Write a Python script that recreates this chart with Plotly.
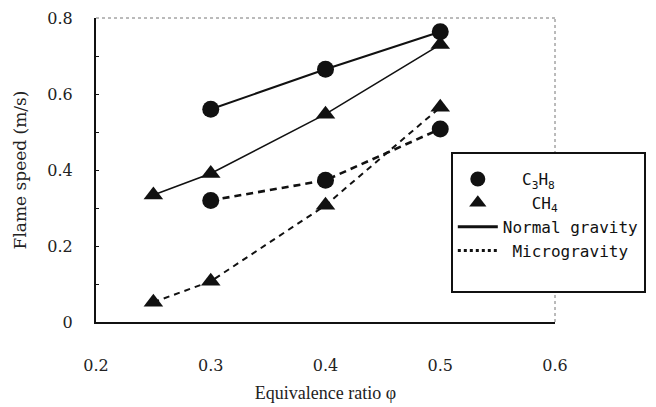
import plotly.graph_objects as go

# Data
phi_c3h8 = [0.3, 0.4, 0.5]
phi_ch4 = [0.25, 0.3, 0.4, 0.5]
c3h8_normal = [0.56, 0.665, 0.764]
ch4_normal = [0.334, 0.391, 0.547, 0.73]
c3h8_micro = [0.32, 0.373, 0.508]
ch4_micro = [0.052, 0.107, 0.307, 0.565]

x_ticks = [0.2, 0.3, 0.4, 0.5, 0.6]
x_tick_labels = ["0.2", "0.3", "0.4", "0.5", "0.6"]
y_ticks = [0, 0.2, 0.4, 0.6, 0.8]
y_tick_labels = ["0", "0.2", "0.4", "0.6", "0.8"]

BLACK = "#111111"
NB = "\u00a0"

fig = go.Figure()

def add_series(x, y, symbol, dash, width):
    fig.add_trace(go.Scatter(
        x=x, y=y, mode="lines+markers", showlegend=False,
        line=dict(color=BLACK, width=width, dash=dash),
        marker=dict(symbol=symbol, size=17, color=BLACK),
    ))

add_series(phi_c3h8, c3h8_normal, "circle", "solid", 2)
add_series(phi_ch4, ch4_normal, "triangle-up", "solid", 1.6)
add_series(phi_c3h8, c3h8_micro, "circle", "7px,5px", 2.6)
add_series(phi_ch4, ch4_micro, "triangle-up", "6px,5px", 2)

# Legend-only entries
legend_font = dict(family="DejaVu Sans Mono", size=16, color=BLACK)
fig.add_trace(go.Scatter(x=[None], y=[None], mode="markers", name=NB * 2 + "C<sub>3</sub>H<sub>8</sub>",
                         marker=dict(symbol="circle", size=15, color=BLACK)))
fig.add_trace(go.Scatter(x=[None], y=[None], mode="markers", name=NB * 3 + "CH<sub>4</sub>",
                         marker=dict(symbol="triangle-up", size=15, color=BLACK)))
fig.add_trace(go.Scatter(x=[None], y=[None], mode="lines", name="Normal gravity",
                         line=dict(color=BLACK, width=3)))
fig.add_trace(go.Scatter(x=[None], y=[None], mode="lines", name=NB + "Microgravity",
                         line=dict(color=BLACK, width=3, dash="dot")))
fig.add_trace(go.Scatter(x=[None], y=[None], mode="markers", name=NB,
                         marker=dict(size=1, color="rgba(0,0,0,0)")))

# Faint dotted top and right borders
fig.add_shape(type="line", xref="x domain", yref="y domain", x0=0, x1=1, y0=1, y1=1,
              line=dict(color="#777777", width=1, dash="dot"))
fig.add_shape(type="line", xref="x domain", yref="y domain", x0=1, x1=1, y0=0, y1=1,
              line=dict(color="#777777", width=1, dash="dot"))

tick_font = dict(family="DejaVu Serif", size=16, color="#222222")

# The page body adds an 8px margin, so the figure is sized and placed to compensate.
fig.update_layout(
    width=648, height=399,
    margin=dict(l=88, r=98, t=10, b=85),
    paper_bgcolor="white", plot_bgcolor="white",
    xaxis=dict(
        range=[0.2, 0.6], tickvals=x_ticks, ticktext=x_tick_labels, automargin=False,
        showline=True, linecolor=BLACK, linewidth=2, showgrid=False, zeroline=False,
        ticks="", tickfont=tick_font, ticklabelstandoff=28, ticklabeloverflow="allow",
        title=dict(text="Equivalence ratio φ", font=dict(family="Liberation Serif", size=18, color="#222222"), standoff=12),
    ),
    yaxis=dict(
        range=[0, 0.8], tickvals=y_ticks, ticktext=y_tick_labels, automargin=False,
        showline=True, linecolor=BLACK, linewidth=2, showgrid=False, zeroline=False,
        ticks="inside", ticklen=3, tickcolor=BLACK, tickfont=tick_font, ticklabelstandoff=18,
        ticklabeloverflow="allow",
        minor=dict(dtick=0.1, ticks="inside", ticklen=3, tickcolor=BLACK),
        title=dict(text="Flame speed (m/s)", font=dict(family="DejaVu Serif", size=17, color="#222222"), standoff=16),
    ),
    legend=dict(
        x=0.773, y=0.558, xanchor="left", yanchor="top",
        bordercolor=BLACK, borderwidth=2, bgcolor="white",
        font=legend_font, itemwidth=40,
        title=dict(text=NB, font=dict(size=6)),
    ),
)

fig.write_html("out.html")
